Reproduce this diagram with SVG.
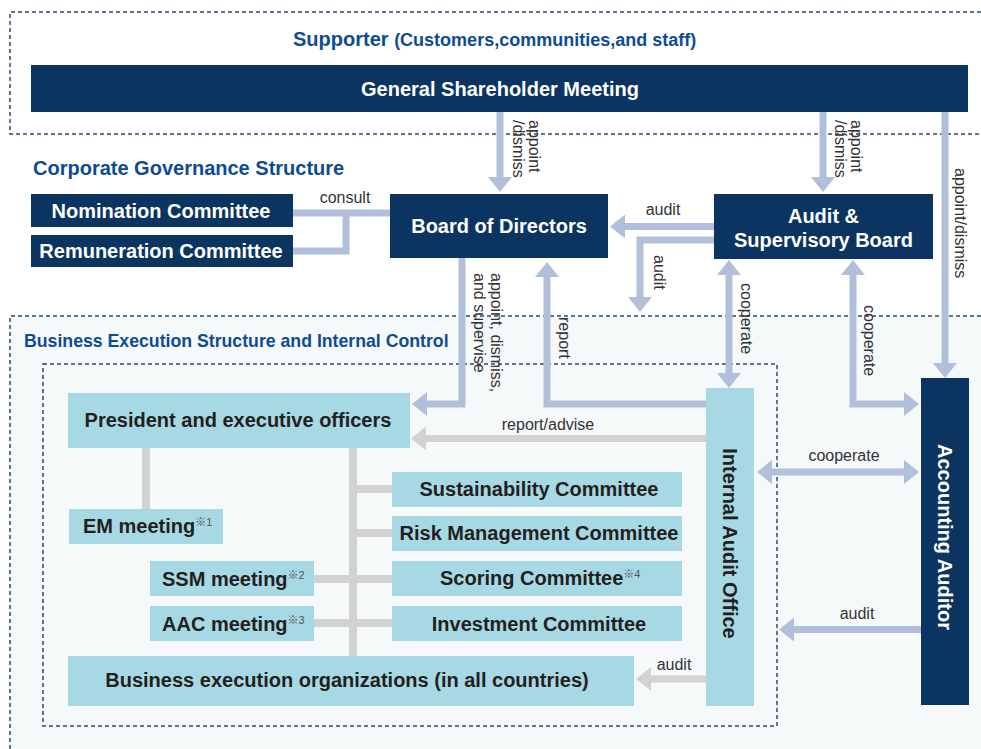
<svg xmlns="http://www.w3.org/2000/svg" width="981" height="749" viewBox="0 0 981 749">
<defs>
<style>
.dash{fill:none;stroke:#2b4a6e;stroke-width:1.5;stroke-dasharray:4 3}
.navy{fill:#0b3560}
.lb{fill:#a7d9e4}
.wt{font-family:"Liberation Sans",Arial,sans-serif;font-weight:bold;font-size:20px;fill:#ffffff}
.dt{font-family:"Liberation Sans",Arial,sans-serif;font-weight:bold;font-size:20px;fill:#231f20}
.title{font-family:"Liberation Sans",Arial,sans-serif;font-weight:bold;fill:#0d4c94}
.lab{font-family:"Liberation Sans",Arial,sans-serif;font-size:16px;fill:#333333}
.sup{font-family:"Liberation Sans","Noto Sans CJK JP",sans-serif;font-size:11px;font-weight:normal;fill:#555555}
.ab{fill:none;stroke:#b1bfda;stroke-width:7}
.ag{fill:none;stroke:#d2d2d2;stroke-width:7}
.gl{fill:none;stroke:#d2d2d2;stroke-width:8}
</style>
<marker id="mb" viewBox="0 0 15 24" refX="1" refY="12" markerWidth="15" markerHeight="24" markerUnits="userSpaceOnUse" orient="auto-start-reverse"><path d="M0,0 L15,12 L0,24 Z" fill="#b1bfda"/></marker>
<marker id="mg" viewBox="0 0 15 24" refX="1" refY="12" markerWidth="15" markerHeight="24" markerUnits="userSpaceOnUse" orient="auto-start-reverse"><path d="M0,0 L15,12 L0,24 Z" fill="#d2d2d2"/></marker>
</defs>
<rect x="0" y="0" width="981" height="749" fill="#ffffff"/>
<g id="regions">
<path class="dash" d="M981,12 H10 V134 H981"/>
<rect x="10" y="316" width="971" height="433" fill="#f6f9fa"/>
<path class="dash" d="M981,316 H10 V749"/>
<rect class="dash" x="43" y="364" width="734" height="362"/>
<text class="title" x="293" y="46" font-size="20">Supporter <tspan font-size="18">(Customers,communities,and staff)</tspan></text>
<text class="title" x="33" y="175" font-size="20">Corporate Governance Structure</text>
<text class="title" x="24" y="347" font-size="17.7">Business Execution Structure and Internal Control</text>
</g>
<g id="connectors">
<path class="ab" d="M500,112 V178" marker-end="url(#mb)"/>
<path class="ab" d="M823,112 V178" marker-end="url(#mb)"/>
<path class="ab" d="M945,112 V364" marker-end="url(#mb)"/>
<path class="ab" d="M293,213 H390 M293,251 H346 V213"/>
<path class="ab" d="M714,226.5 H624" marker-end="url(#mb)"/>
<path class="ab" d="M714,240 H640 V298" marker-end="url(#mb)"/>
<path class="ab" d="M462,258 V404 H426" marker-end="url(#mb)"/>
<path class="ab" d="M706,404 H547 V276" marker-end="url(#mb)"/>
<path class="ab" d="M729,274 V374" marker-start="url(#mb)" marker-end="url(#mb)"/>
<path class="ab" d="M853,274 V404 H905" marker-start="url(#mb)" marker-end="url(#mb)"/>
<path class="ab" d="M771,472 H905" marker-start="url(#mb)" marker-end="url(#mb)"/>
<path class="ab" d="M921,629.5 H793" marker-end="url(#mb)"/>
<path class="ag" d="M706,438.5 H425" marker-end="url(#mg)"/>
<path class="ag" d="M706,679 H650" marker-end="url(#mg)"/>
<path class="gl" d="M146,448 V509 M353,448 V656 M353,489 H392 M353,533 H392 M314,579 H392 M314,623 H392"/>
<text class="lab" x="345" y="203" text-anchor="middle">consult</text>
<text class="lab" x="663" y="215" text-anchor="middle">audit</text>
<text class="lab" x="548" y="430" text-anchor="middle">report/advise</text>
<text class="lab" x="844" y="461" text-anchor="middle">cooperate</text>
<text class="lab" x="857" y="619" text-anchor="middle">audit</text>
<text class="lab" x="674" y="670" text-anchor="middle">audit</text>
<text class="lab" transform="translate(529,120) rotate(90)">appoint</text>
<text class="lab" transform="translate(513,120) rotate(90)">/dismiss</text>
<text class="lab" transform="translate(851,120) rotate(90)">appoint</text>
<text class="lab" transform="translate(835,120) rotate(90)">/dismiss</text>
<text class="lab" transform="translate(955,168) rotate(90)">appoint/dismiss</text>
<text class="lab" transform="translate(654,255) rotate(90)">audit</text>
<text class="lab" transform="translate(491,273) rotate(90)">appoint, dismiss,</text>
<text class="lab" transform="translate(474,273) rotate(90)">and supervise</text>
<text class="lab" transform="translate(559,317) rotate(90)">report</text>
<text class="lab" transform="translate(741,283) rotate(90)">cooperate</text>
<text class="lab" transform="translate(864,305) rotate(90)">cooperate</text>
</g>
<g id="gsm"><rect class="navy" x="31" y="65" width="937" height="47"/><text class="wt" x="500" y="96" text-anchor="middle" font-size="21">General Shareholder Meeting</text></g>
<g id="nomination"><rect class="navy" x="31" y="194" width="262" height="33"/><text class="wt" x="161" y="218" text-anchor="middle">Nomination Committee</text></g>
<g id="remuneration"><rect class="navy" x="31" y="235" width="262" height="32"/><text class="wt" x="161" y="258" text-anchor="middle">Remuneration Committee</text></g>
<g id="board"><rect class="navy" x="390" y="194" width="218" height="64"/><text class="wt" x="499" y="233" text-anchor="middle">Board of Directors</text></g>
<g id="asb"><rect class="navy" x="714" y="194" width="219" height="65"/><text class="wt" x="823.5" y="223" text-anchor="middle">Audit &amp;</text><text class="wt" x="823.5" y="247" text-anchor="middle">Supervisory Board</text></g>
<g id="president"><rect class="lb" x="68" y="393" width="342" height="55"/><text class="dt" x="238" y="427" text-anchor="middle">President and executive officers</text></g>
<g id="em"><rect class="lb" x="69" y="509" width="154" height="35"/><text class="dt" x="83" y="533">EM meeting<tspan class="sup" dy="-7">※1</tspan></text></g>
<g id="ssm"><rect class="lb" x="150" y="561" width="164" height="35"/><text class="dt" x="162" y="586">SSM meeting<tspan class="sup" dy="-7">※2</tspan></text></g>
<g id="aac"><rect class="lb" x="150" y="606" width="164" height="35"/><text class="dt" x="162" y="631">AAC meeting<tspan class="sup" dy="-7">※3</tspan></text></g>
<g id="sustainability"><rect class="lb" x="392" y="472" width="290" height="35"/><text class="dt" x="539" y="496" text-anchor="middle">Sustainability Committee</text></g>
<g id="risk"><rect class="lb" x="392" y="516" width="290" height="35"/><text class="dt" x="539" y="540" text-anchor="middle" font-size="19.5">Risk Management Committee</text></g>
<g id="scoring"><rect class="lb" x="392" y="561" width="290" height="35"/><text class="dt" x="440" y="585">Scoring Committee<tspan class="sup" dy="-7">※4</tspan></text></g>
<g id="investment"><rect class="lb" x="392" y="606" width="290" height="35"/><text class="dt" x="539" y="631" text-anchor="middle">Investment Committee</text></g>
<g id="beo"><rect class="lb" x="68" y="656" width="566" height="50"/><text class="dt" x="347" y="687" text-anchor="middle" font-size="19">Business execution organizations (in all countries)</text></g>
<g id="iao"><rect class="lb" x="706" y="388" width="48" height="318"/><text class="dt" transform="translate(723,543.5) rotate(90)" text-anchor="middle">Internal Audit Office</text></g>
<g id="aa"><rect class="navy" x="921" y="378" width="48" height="327"/><text class="wt" transform="translate(938,537) rotate(90)" text-anchor="middle">Accounting Auditor</text></g>
</svg>
